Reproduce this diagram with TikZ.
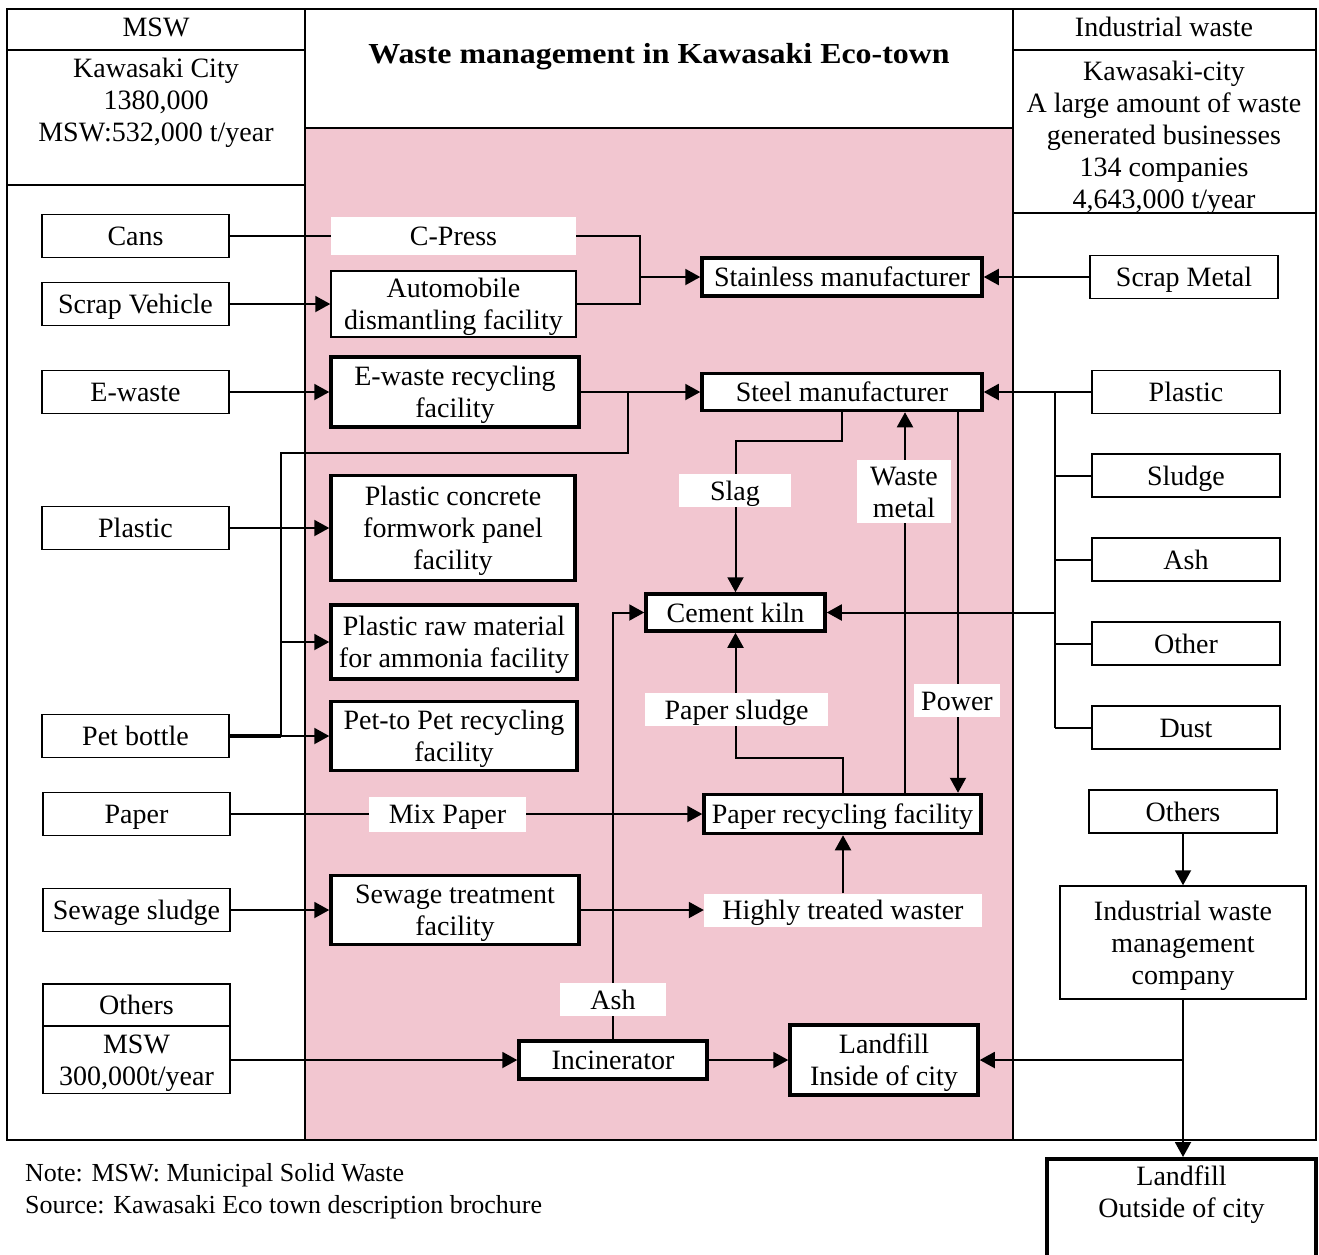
\documentclass[tikz,border=0pt]{standalone}
\usepackage{fontspec}
\setmainfont{Liberation Serif}
\newfontfamily\titlefont[FakeStretch=1.1]{Liberation Serif}
\usetikzlibrary{arrows.meta}
\definecolor{ecopink}{RGB}{242,198,208}
\begin{document}
\begin{tikzpicture}[x=1pt,y=-1pt,
  font=\fontsize{28}{32}\selectfont,
  frame/.style={draw=black, line width=2pt},
  line/.style={draw, line width=2pt},
  conn/.style={draw, line width=2pt, -{Triangle[length=15pt,width=16pt]}},
  box/.style={draw, fill=white, line width=1.5pt, inner sep=0pt, align=center,
              text height=22pt, text depth=3pt},
  heavybox/.style={box, line width=3.5pt},
  tag/.style={fill=white, inner sep=0pt, align=center, text height=22pt, text depth=3pt},
  sz/.style 2 args={minimum width=#1pt, minimum height=#2pt},
  txt/.style={inner sep=0pt, align=center},
  two/.style={text height=54pt},
  three/.style={text height=86pt},
]
\useasboundingbox (0,0) rectangle (1319,1254);

% ---------- frame ----------
\fill[ecopink] (305,128) rectangle (1013,1140);
\draw[frame] (7,9) rectangle (1316,1140);
\draw[frame] (305,9) -- (305,1140);
\draw[frame] (1013,9) -- (1013,1140);
\draw[frame] (305,128) -- (1013,128);
\draw[frame] (7,50) -- (305,50);
\draw[frame] (7,185) -- (305,185);
\draw[frame] (1013,50) -- (1316,50);
\draw[frame] (1013,213) -- (1316,213);

\node[anchor=base] (hdrL) at (156,36) {MSW};
\node[anchor=base] (hdrR) at (1164,36) {Industrial waste};
\node[txt, text height=83pt, anchor=north] (city) at (156,58)
  {Kawasaki City\\1380,000\\MSW:532,000 t/year};
\node[txt, text height=147pt, anchor=north] (industry) at (1164,61)
  {Kawasaki-city\\A large amount of waste\\generated businesses\\134 companies\\4,643,000 t/year};
\node[anchor=base, font=\titlefont\bfseries\fontsize{29}{34}\selectfont] (title) at (659,63)
  {Waste management in Kawasaki Eco-town};

% ---------- MSW sources ----------
\node[box, sz={187}{43}] (cans)   at (135.5,236) {Cans};
\node[box, sz={187}{43}] (scrapv) at (135.5,304) {Scrap Vehicle};
\node[box, sz={187}{43}] (ewaste) at (135.5,392) {E-waste};
\node[box, sz={187}{43}] (plasticL) at (135.5,528) {Plastic};
\node[box, sz={187}{43}] (pet)    at (135.5,736) {Pet bottle};
\node[box, sz={187}{43}] (paper)  at (136.5,814) {Paper};
\node[box, sz={187}{43}] (sewage) at (136.5,910) {Sewage sludge};
\node[box, sz={187}{42}] (othersL) at (136.5,1005) {Others};
\node[box, two, sz={187}{67}] (mswL)   at (136.5,1060) {MSW\\300,000t/year};

% ---------- eco-town facilities ----------
\node[tag, sz={245}{38}] (cpress) at (453.5,236) {C-Press};
\node[box, two, sz={245}{66}] (auto) at (453.5,304) {Automobile\\dismantling facility};
\node[heavybox, two, sz={248}{70}] (erec) at (455,392) {E-waste recycling\\facility};
\node[heavybox, three, sz={244}{105}] (pcf) at (453,528) {Plastic concrete\\formwork panel\\facility};
\node[heavybox, two, sz={246}{74}] (pram) at (454,642) {Plastic raw material\\for ammonia facility};
\node[heavybox, two, sz={246}{69}] (petrec) at (454,736) {Pet-to Pet recycling\\facility};
\node[tag, sz={157}{35}] (mixpaper) at (447.5,814) {Mix Paper};
\node[heavybox, two, sz={248}{69}] (sewt) at (455,910) {Sewage treatment\\facility};
\node[heavybox, sz={188}{38}] (incin) at (613,1060) {Incinerator};
\node[heavybox, two, sz={188}{70}] (lfin) at (884,1060) {Landfill\\Inside of city};

\node[heavybox, sz={280}{38}] (stainless) at (842,277) {Stainless manufacturer};
\node[heavybox, sz={280}{37}] (steel) at (842,392) {Steel manufacturer};
\node[heavybox, sz={179}{37}] (kiln) at (735.5,612.5) {Cement kiln};
\node[heavybox, sz={277}{39}] (precyc) at (842.5,814) {Paper recycling facility};
\node[tag, sz={278}{33}] (htw) at (843,910) {Highly treated waster};

% ---------- industrial waste sources ----------
\node[box, sz={188}{43}] (scrapm) at (1184,277) {Scrap Metal};
\node[box, sz={188}{43}] (plasticR) at (1186,392) {Plastic};
\node[box, sz={188}{43}] (sludge) at (1186,475.5) {Sludge};
\node[box, sz={188}{43}] (ashR) at (1186,559.5) {Ash};
\node[box, sz={188}{43}] (otherR) at (1186,643.5) {Other};
\node[box, sz={188}{43}] (dust) at (1186,727.5) {Dust};
\node[box, sz={188}{43}] (othersR) at (1183,811.5) {Others};
\node[box, three, sz={246}{113}] (iwmc) at (1183,942.5) {Industrial waste\\management\\company};
\node[heavybox, sz={269}{125}, anchor=north] (lfout) at (1181.5,1157) {};
\node[txt, text height=51pt, anchor=north] (lfouttext) at (1181.5,1166) {Landfill\\Outside of city};

% ---------- connectors: MSW side ----------
\coordinate (j1) at (640,277);
\draw[line] (cans) -- (cpress);
\draw[line] (cpress.east) -| (j1) |- (auto.east);
\draw[conn] (j1) -- (stainless.west);
\draw[conn] (scrapv) -- (auto);
\draw[conn] (ewaste) -- (erec);
\draw[conn] (erec) -- (steel);

\coordinate (j2) at (628,392);
\coordinate (busTop) at (281,453);
\coordinate (busBot) at (281,736);
\draw[line] (j2) |- (busTop) -- (busBot);
\draw[conn] (plasticL) -- (pcf);
\draw[conn] (busTop |- pram) -- (pram.west);
\draw[line width=3.5pt] (pet.east) -- (busBot);
\draw[conn] (pet) -- (petrec);

\draw[line] (paper) -- (mixpaper);
\draw[conn] (mixpaper) -- (precyc);
\draw[conn] (sewage) -- (sewt);
\draw[conn] (sewt) -- (htw);
\draw[conn] (htw.north) -- (htw.north |- precyc.south);
\draw[conn] (mswL) -- (incin);
\draw[conn] (incin) -- (lfin);
\draw[conn] (incin.north) |- (kiln.west);

% ---------- connectors: inside the eco-town ----------
\coordinate (s1) at (842,441);
\draw[conn] (steel.south) -- (s1) -| (kiln.north);
\coordinate (wmx) at (905,600);
\draw[conn] (wmx |- precyc.north) -- (wmx |- steel.south);
\coordinate (pwx) at (958,600);
\draw[conn] (pwx |- steel.south) -- (pwx |- precyc.north);
\draw[conn] (precyc.north) -- ++(0,-35) -| (kiln.south);

\node[tag, sz={112}{33}] (slag) at (735,490.5) {Slag};
\node[tag, two, sz={94}{63}] (wmetal) at (904,491.5) {Waste\\metal};
\node[tag, sz={183}{33}] (psludge) at (736.5,709.5) {Paper sludge};
\node[tag, sz={86}{33}] (power) at (957,700.5) {Power};
\node[tag, sz={106}{33}] (ashtag) at (613,999.5) {Ash};

% ---------- connectors: industrial waste side ----------
\draw[conn] (scrapm) -- (stainless);
\coordinate (rbTop) at (1055,392);
\coordinate (rbBot) at (1055,727.5);
\draw[line] (rbTop) -- (rbBot);
\draw[conn] (plasticR) -- (steel);
\draw[line] (sludge.west) -- (sludge.west -| rbTop);
\draw[line] (ashR.west) -- (ashR.west -| rbTop);
\draw[line] (otherR.west) -- (otherR.west -| rbTop);
\draw[line] (dust.west) -- (rbBot);
\draw[conn] (rbTop |- kiln) -- (kiln);

\draw[conn] (othersR) -- (iwmc);
\coordinate (iw) at (1183,1060);
\draw[line] (iwmc.south) -- (iw);
\draw[conn] (iw) -- (lfin.east);
\draw[conn] (iw) -- (iw |- lfout.north);

% ---------- notes ----------
\node[anchor=base west, inner sep=0pt, font=\fontsize{26}{30}\selectfont] (note) at (25,1181)
  {Note: MSW: Municipal Solid Waste};
\node[anchor=base west, inner sep=0pt, font=\fontsize{26}{30}\selectfont] (source) at (25,1213)
  {Source: Kawasaki Eco town description brochure};
\end{tikzpicture}
\end{document}
